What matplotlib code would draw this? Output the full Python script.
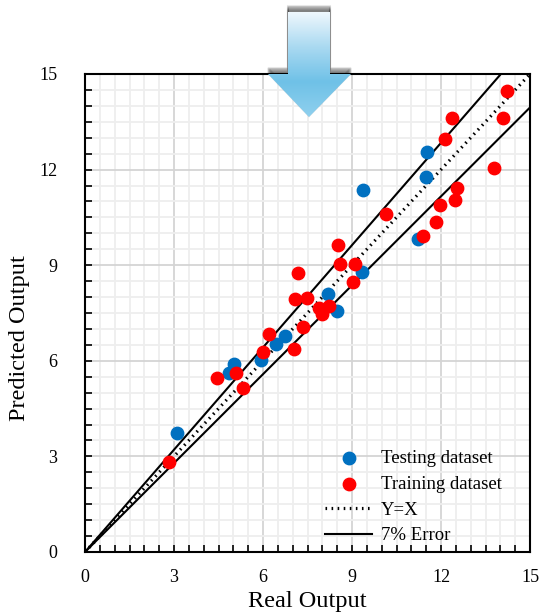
import matplotlib.pyplot as plt
import numpy as np
from matplotlib.patches import Polygon

# data
test_x = [3.10, 4.85, 5.01, 5.92, 6.44, 6.74, 8.18, 8.50, 9.33, 9.36, 11.22, 11.48, 11.54]
test_y = [3.75, 5.62, 5.90, 6.02, 6.52, 6.79, 8.11, 7.57, 8.78, 11.37, 9.81, 11.77, 12.55]

train_x = [2.82, 4.46, 5.08, 5.34, 6.01, 6.20, 7.04, 7.08, 7.19, 7.34, 7.47, 7.90, 7.98, 8.21,
           8.53, 8.61, 9.04, 9.09, 10.16, 11.38, 11.82, 11.98, 12.13, 12.37, 12.48, 12.54,
           13.80, 14.10, 14.22]
train_y = [2.82, 5.47, 5.61, 5.15, 6.27, 6.85, 6.36, 7.93, 8.74, 7.06, 7.96, 7.66, 7.48, 7.71,
           9.62, 9.05, 8.47, 9.03, 10.62, 9.93, 10.36, 10.89, 12.97, 13.62, 11.04, 11.42,
           12.05, 13.62, 14.46]

error = 0.07
ticks = [0, 3, 6, 9, 12, 15]

plt.rcParams['font.family'] = ['Liberation Serif', 'DejaVu Serif']

fig = plt.figure(figsize=(5.4, 6.15), dpi=100)
ax = fig.add_axes([85 / 540, 63 / 615, 445 / 540, 478 / 615])

line_x = np.array([0, 15])
ax.plot(line_x, line_x * (1 + error), color='black', lw=1.5, zorder=3, label='7% Error')
ax.plot(line_x, line_x * (1 - error), color='black', lw=1.5, zorder=3)
ax.plot(line_x, line_x, color='black', lw=2.3, ls=(0, (0.5, 1.4)), zorder=3, label='Y=X')

ax.scatter(test_x, test_y, s=80, color='#0070C0', zorder=4, label='Testing dataset')
ax.scatter(train_x, train_y, s=80, color='#FF0000', zorder=5, label='Training dataset')

ax.set_xlim(0, 15)
ax.set_ylim(0, 15)
ax.set_xticks(ticks)
ax.set_yticks(ticks)
ax.set_xticks(np.arange(0, 15.01, 0.5), minor=True)
ax.set_yticks(np.arange(0, 15.01, 0.5), minor=True)
ax.grid(which='major', color='#d4d4d4', lw=1.3, zorder=0)
ax.grid(which='minor', color='#eeeeee', lw=1.3, zorder=0)
ax.set_axisbelow(True)
ax.tick_params(which='both', direction='in', top=False, right=False, width=1.2)
ax.tick_params(which='major', length=5, labelsize=13)
ax.tick_params(axis='x', which='major', pad=12)
ax.tick_params(axis='y', which='major', pad=20)
ax.tick_params(which='minor', length=5)
for s in ax.spines.values():
    s.set_linewidth(1.5)

ax.set_xlabel('Real Output', fontsize=17.5, labelpad=4)
ax.set_ylabel('Predicted Output', fontsize=17.5)
ax.yaxis.set_label_coords(-0.124, 0.448)

h, l = ax.get_legend_handles_labels()
order = [2, 3, 1, 0]
ax.legend([h[i] for i in order], [l[i] for i in order], loc='lower left',
          bbox_to_anchor=(0.515, -0.007), borderaxespad=0.2, frameon=False, fontsize=13.5,
          handlelength=2.5, handletextpad=0.45, labelspacing=0.45)

# arrow at the top (figure pixel coords)
ov = fig.add_axes([0, 0, 1, 1], zorder=10)
ov.set_xlim(0, 540)
ov.set_ylim(615, 0)
ov.axis('off')
pts = [(288, 12), (330, 12), (330, 74), (351, 74), (309, 117), (268, 74), (288, 74)]
for k in range(1, 7):
    sh = Polygon([(x, y - k) for x, y in pts], closed=True, facecolor='black',
                 edgecolor='black', alpha=0.09, lw=1.5, zorder=1)
    ov.add_patch(sh)
grad = np.linspace(0, 1, 100).reshape(-1, 1)
cmap = plt.matplotlib.colors.LinearSegmentedColormap.from_list(
    'ar', ['#eef7fd', '#a9d9f1', '#6fc1e7', '#8fd0ee'])
im = ov.imshow(grad, cmap=cmap, extent=(268, 351, 117, 12), aspect='auto', zorder=2)
clip = Polygon(pts, closed=True, transform=ov.transData, facecolor='none', edgecolor='none')
ov.add_patch(clip)
im.set_clip_path(clip)

fig.savefig('out.png', dpi=100)
